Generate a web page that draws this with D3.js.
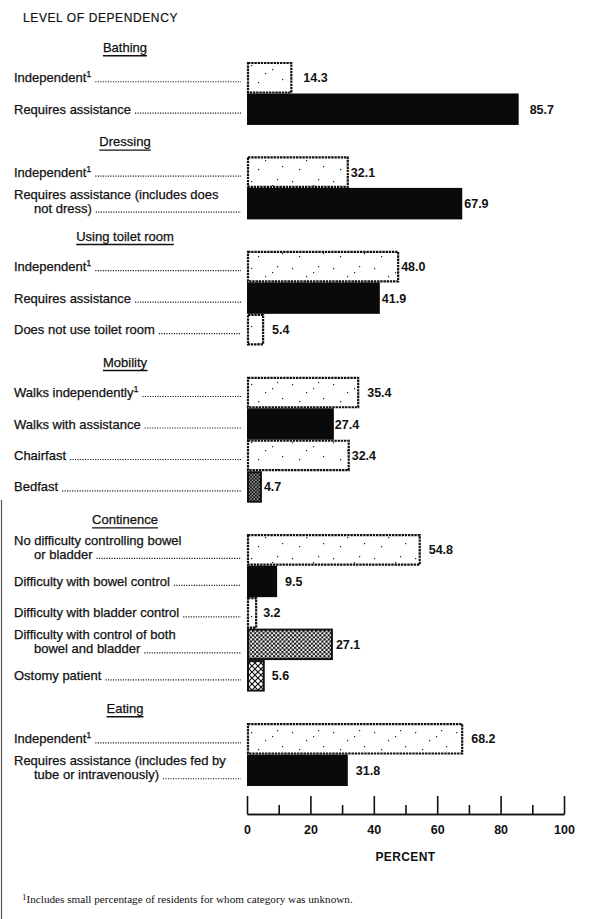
<!DOCTYPE html>
<html><head><meta charset="utf-8">
<script src="https://cdn.jsdelivr.net/npm/d3@7"></script>
<style>
html,body{margin:0;padding:0;background:#fff;}
svg{display:block;}
</style></head>
<body>
<svg id="chart" width="592" height="919"></svg>
<script>
// ---------- DATA ----------
const groups = ["Bathing", "Dressing", "Using toilet room", "Mobility", "Continence", "Eating"];
const categories = [
  ["Independent¹"],
  ["Requires assistance"],
  ["Independent¹"],
  ["Requires assistance (includes does", "not dress)"],
  ["Independent¹"],
  ["Requires assistance"],
  ["Does not use toilet room"],
  ["Walks independently¹"],
  ["Walks with assistance"],
  ["Chairfast"],
  ["Bedfast"],
  ["No difficulty controlling bowel", "or bladder"],
  ["Difficulty with bowel control"],
  ["Difficulty with bladder control"],
  ["Difficulty with control of both", "bowel and bladder"],
  ["Ostomy patient"],
  ["Independent¹"],
  ["Requires assistance (includes fed by", "tube or intravenously)"]
];
const groupOf = [0,0,1,1,2,2,2,3,3,3,3,4,4,4,4,4,5,5];
const values = [14.3,85.7,32.1,67.9,48.0,41.9,5.4,35.4,27.4,32.4,4.7,54.8,9.5,3.2,27.1,5.6,68.2,31.8];
const majorTicks = [0,20,40,60,80,100];
const minorTicks = [10,30,50,70,90];
const titleText = "LEVEL OF DEPENDENCY";
const axisTitle = "PERCENT";
const footnote = "Includes small percentage of residents for whom category was unknown.";

// ---------- STYLE ----------
const barStyle = ["light","dark","light","dark","light","dark","light","light","dark","light","dense",
                  "light","dark","light","dots","hatch","light","dark"];
const valueGap = [11,11,2,2,2,2,8,8,1,2,2,8,8,6,3,7,8,8];

const svg = d3.select("#chart");
const defs = svg.append("defs");

// speckled light pattern
const sp = defs.append("pattern").attr("id","pat-light").attr("patternUnits","userSpaceOnUse")
  .attr("width",41).attr("height",29);
sp.append("rect").attr("width",41).attr("height",29).attr("fill","#fff");
[[5,7],[19,15],[31,5],[36,21],[12,24],[26,11]].forEach(p=>{
  sp.append("rect").attr("x",p[0]).attr("y",p[1]).attr("width",1.2).attr("height",1.2).attr("fill","#222");
});
// dense dark checker (white dots on black)
const dn = defs.append("pattern").attr("id","pat-dense").attr("patternUnits","userSpaceOnUse")
  .attr("width",3.4).attr("height",3.4);
dn.append("rect").attr("width",3.4).attr("height",3.4).attr("fill","#111");
dn.append("rect").attr("x",0.3).attr("y",0.3).attr("width",1.2).attr("height",1.2).attr("fill","#fff");
dn.append("rect").attr("x",2).attr("y",2).attr("width",1.2).attr("height",1.2).attr("fill","#fff");
// dot lattice
const dt = defs.append("pattern").attr("id","pat-dots").attr("patternUnits","userSpaceOnUse")
  .attr("width",4.2).attr("height",4.2);
dt.append("rect").attr("width",4.2).attr("height",4.2).attr("fill","#fff");
dt.append("circle").attr("cx",1.05).attr("cy",1.05).attr("r",1.25).attr("fill","#111");
dt.append("circle").attr("cx",3.15).attr("cy",3.15).attr("r",1.25).attr("fill","#111");
// crosshatch
const ht = defs.append("pattern").attr("id","pat-hatch").attr("patternUnits","userSpaceOnUse")
  .attr("width",6).attr("height",6);
ht.append("rect").attr("width",6).attr("height",6).attr("fill","#fff");
ht.append("path").attr("d","M0,0L6,6M6,0L0,6").attr("stroke","#111").attr("stroke-width",1.2);

const FONT = "'Liberation Sans', Arial, Helvetica, sans-serif";
const LABEL_SIZE = 13;

// scales
const nUnits = categories.length + (groups.length - 1);
const x = d3.scaleLinear().domain([0,100]).range([247,564]);
const y = d3.scaleLinear().domain([0,nUnits]).range([62,786]);
const unitOf = categories.map((c,i)=> i + groupOf[i]);

// left page edge (scan border)
svg.append("line").attr("x1",1.5).attr("x2",1.5).attr("y1",500).attr("y2",919)
  .attr("stroke","#555").attr("stroke-width",1.2);

// title
svg.append("text").attr("x",23).attr("y",22).text(titleText)
  .attr("font-family",FONT).attr("font-size",12).attr("letter-spacing",0.6).attr("fill","#111")
  .attr("stroke","#111").attr("stroke-width",0.2);

// group headers
groups.forEach((g,gi)=>{
  const first = groupOf.indexOf(gi);
  const top = y(unitOf[first]);
  const t = svg.append("text").attr("x",125).attr("y",top-10).attr("text-anchor","middle")
    .attr("font-family",FONT).attr("font-size",LABEL_SIZE).attr("fill","#111")
    .attr("stroke","#111").attr("stroke-width",0.25).text(g);
  const bb = t.node().getBBox();
  svg.append("line").attr("x1",bb.x).attr("x2",bb.x+bb.width)
    .attr("y1",top-6.3).attr("y2",top-6.3).attr("stroke","#111").attr("stroke-width",1.4);
});

// row labels with dot leaders
const rows = svg.append("g");
categories.forEach((lines,i)=>{
  const top = y(unitOf[i]), h = y(unitOf[i]+1)-top, cy = top + h/2;
  const n = lines.length;
  lines.forEach((ln,li)=>{
    const base = n===1 ? cy+4.5 : cy + (li===0 ? -5 : 9);
    const lx = li===0 ? 14 : 34;
    const t = rows.append("text").attr("x",lx).attr("y",base)
      .attr("font-family",FONT).attr("font-size",LABEL_SIZE).attr("fill","#111")
      .attr("stroke","#111").attr("stroke-width",0.25);
    if (ln.includes("¹")) {
      const parts = ln.split("¹");
      t.append("tspan").text(parts[0]);
      t.append("tspan").attr("font-size",9).attr("dy",-5).text("1");
    } else t.text(ln);
    if (li===n-1) {
      const end = lx + t.node().getComputedTextLength();
      rows.append("line").attr("x1",end+4).attr("x2",241).attr("y1",base-0.5).attr("y2",base-0.5)
        .attr("stroke","#111").attr("stroke-width",1.2).attr("stroke-dasharray","1.1,1.4");
    }
  });
});

// bars
const bars = svg.append("g");
values.forEach((v,i)=>{
  const top = y(unitOf[i]), h = y(unitOf[i]+1)-top;
  const s = barStyle[i];
  const r = bars.append("rect").attr("x",x(0)).attr("y",top).attr("width",x(v)-x(0)).attr("height",h);
  if (s==="dark") r.attr("fill","#0a0a0a");
  else if (s==="light") {
    r.attr("x",x(0)+1).attr("y",top+1).attr("width",x(v)-x(0)-2).attr("height",h-2)
     .attr("fill","url(#pat-light)").attr("stroke","#111").attr("stroke-width",2.2)
     .attr("stroke-dasharray","2.4,0.8");
  } else {
    r.attr("x",x(0)+1).attr("y",top+1).attr("width",x(v)-x(0)-2).attr("height",h-2)
     .attr("fill","url(#pat-"+s+")").attr("stroke","#111").attr("stroke-width",2);
  }
  bars.append("text").attr("x",x(v)+valueGap[i]).attr("y",top+h/2+4.5)
    .attr("font-family",FONT).attr("font-size",12.5).attr("font-weight","bold").attr("fill","#111")
    .text(d3.format(".1f")(v));
});

// axis
const axisY = 814;
const gMinor = svg.append("g").attr("transform",`translate(0,${axisY})`)
  .call(d3.axisBottom(x).tickValues(minorTicks).tickSize(-9).tickSizeOuter(0).tickFormat(""));
const gMajor = svg.append("g").attr("transform",`translate(0,${axisY})`)
  .call(d3.axisBottom(x).tickValues(majorTicks).tickSize(-18).tickSizeOuter(0).tickPadding(11)
    .tickFormat(d3.format("d")));
[gMinor,gMajor].forEach(g=>{
  g.selectAll("path.domain").attr("stroke","#111").attr("stroke-width",1.6);
  g.selectAll(".tick line").attr("stroke","#111").attr("stroke-width",1.6);
});
gMajor.selectAll(".tick text").attr("font-family",FONT).attr("font-size",12.5)
  .attr("font-weight","bold").attr("fill","#111");

svg.append("text").attr("x",(x(0)+x(100))/2).attr("y",861).attr("text-anchor","middle")
  .attr("font-family",FONT).attr("font-size",12).attr("font-weight","bold").attr("fill","#111")
  .attr("letter-spacing",0.4).text(axisTitle);

// footnote
const fn = svg.append("text").attr("x",22).attr("y",903)
  .attr("font-family","'Liberation Serif', 'Times New Roman', serif").attr("font-size",11.2).attr("fill","#111");
fn.append("tspan").attr("font-size",9).attr("dy",-3.5).text("1");
fn.append("tspan").attr("dy",3.5).text(footnote);
</script>
</body></html>
